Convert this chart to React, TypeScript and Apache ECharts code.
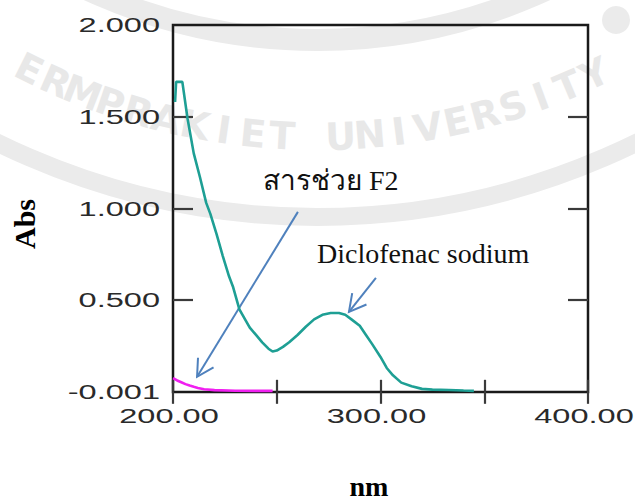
import React, { useEffect, useRef } from 'react';
import * as echarts from 'echarts';

// Diclofenac sodium spectrum (nm, Abs)
const dicloNm = [201, 201.5, 204.5, 207, 210, 213, 216, 218, 221, 224, 227, 229, 232, 235, 237, 240, 243, 246, 248, 250, 253, 256, 260, 264, 268, 272, 276, 280, 283, 286, 290, 293, 296, 300, 303, 306, 310, 315, 320, 325, 333, 340, 345];
const dicloAbs = [1.58, 1.69, 1.69, 1.49, 1.30, 1.17, 1.03, 0.97, 0.86, 0.74, 0.63, 0.57, 0.45, 0.39, 0.35, 0.31, 0.27, 0.235, 0.22, 0.225, 0.245, 0.27, 0.31, 0.355, 0.395, 0.42, 0.43, 0.43, 0.42, 0.395, 0.36, 0.31, 0.26, 0.19, 0.13, 0.09, 0.05, 0.03, 0.016, 0.012, 0.01, 0.007, 0.005];

// Excipient F2 spectrum (nm, Abs)
const f2Nm = [200, 202, 204, 206, 208, 210, 212, 215, 220, 230, 240, 248];
const f2Abs = [0.075, 0.062, 0.052, 0.042, 0.034, 0.027, 0.021, 0.014, 0.009, 0.006, 0.005, 0.005];

const xTickValues = [200, 300, 400];
const xTickLabels = ['200.00', '300.00', '400.00'];
const yTickValues = [-0.001, 0.5, 1, 1.5, 2];
const yTickLabels = ['-0.001', '0.500', '1.000', '1.500', '2.000'];

const annotationTexts = ['สารช่วย F2', 'Diclofenac sodium'];
const arrowFrom = [[260.2, 0.981], [297.8, 0.621]];
const arrowTo = [[211.6, 0.082], [284.8, 0.436]];

const watermarkText = 'ERMPRAKIET UNIVERSITY';

export default function App() {
  const ref = useRef<HTMLDivElement>(null);
  useEffect(() => {
    if (!ref.current) return;
    const chart = echarts.init(ref.current, undefined, { renderer: 'svg' });
    const tickStyle = { color: '#3a3a3a', width: 2.2 };
    const xAx = (pos: string) => ({
      type: 'value', min: 200, max: 400, interval: 50, position: pos,
      axisLine: { show: false }, splitLine: { show: false },
      axisTick: { show: true, inside: true, length: 12, lineStyle: tickStyle },
      axisLabel: { show: false },
    });
    const yAx = (pos: string) => ({
      type: 'value', min: -0.001, max: 2, position: pos,
      axisLine: { show: false }, splitLine: { show: false },
      axisTick: { show: true, inside: true, length: 20, customValues: [0.5, 1, 1.5], lineStyle: tickStyle },
      axisLabel: { show: false },
    });
    chart.setOption({
      animation: false,
      backgroundColor: '#ffffff',
      grid: { left: 173, top: 25, right: 47, bottom: 111, show: true, borderColor: '#1a1a1a', borderWidth: 2.5, containLabel: false },
      xAxis: [xAx('bottom'), xAx('top')],
      yAxis: [yAx('left'), yAx('right')],
      series: [
        {
          name: 'Diclofenac sodium', type: 'line', xAxisIndex: 0, yAxisIndex: 0,
          data: dicloNm.map((x, i) => [x, dicloAbs[i]]), showSymbol: false, symbol: 'none',
          lineStyle: { color: '#1e9f94', width: 2.6 }, z: 3,
        },
        {
          name: 'F2', type: 'line', xAxisIndex: 0, yAxisIndex: 0,
          data: f2Nm.map((x, i) => [x, f2Abs[i]]), showSymbol: false, symbol: 'none',
          lineStyle: { color: '#f01ff0', width: 2.6 }, z: 3,
        },
      ],
    });

    const px = (v: number[]) => chart.convertToPixel({ gridIndex: 0 }, v) as number[];
    const elements: any[] = [];

    // faint seal watermark
    const cx = 317, cy = -508;
    const wm = '#ebebeb';
    elements.push({ type: 'arc', silent: true, z: -10, shape: { cx, cy, r: 725, startAngle: Math.PI * 0.25, endAngle: Math.PI * 0.75 },
      style: { stroke: wm, lineWidth: 18, fill: null } });
    elements.push({ type: 'arc', silent: true, z: -10, shape: { cx, cy, r: 548, startAngle: Math.PI * 0.25, endAngle: Math.PI * 0.75 },
      style: { stroke: wm, lineWidth: 22, fill: null } });
    elements.push({ type: 'circle', silent: true, z: -10, shape: { cx: 616, cy: 20, r: 14 }, style: { fill: wm } });
    const a0 = 116.5 * Math.PI / 180, a1 = 64.5 * Math.PI / 180;
    const chars = watermarkText.split('');
    chars.forEach((ch, i) => {
      if (ch === ' ') return;
      const th = a0 + (a1 - a0) * i / (chars.length - 1);
      const r = 645;
      elements.push({ type: 'text', silent: true, z: -10,
        x: cx + r * Math.cos(th), y: cy + r * Math.sin(th), rotation: Math.PI / 2 - th,
        style: { text: ch, align: 'center', verticalAlign: 'middle', fontFamily: '"DejaVu Sans", sans-serif', fontWeight: 'bold', fontSize: 38, fill: '#e8e8e8' } });
    });

    const labelFont = { fontFamily: '"Liberation Sans", Arial, sans-serif', fontSize: 21, fill: '#2a2a2a' };
    yTickValues.forEach((v, i) => {
      const p = px([200, v]);
      elements.push({ type: 'text', x: p[0] - 13, y: p[1], scaleX: 1.55, silent: true,
        style: { text: yTickLabels[i], align: 'right', verticalAlign: 'middle', ...labelFont } });
    });
    xTickValues.forEach((v, i) => {
      const p = px([v, -0.001]);
      elements.push({ type: 'text', x: p[0] - 4, y: p[1] + 24, scaleX: 1.55, silent: true,
        style: { text: xTickLabels[i], align: 'center', verticalAlign: 'middle', ...labelFont } });
    });
    const arrowColor = '#4f81bd';
    arrowFrom.forEach((f, i) => {
      const a = px(f);
      const b = px(arrowTo[i]);
      const ang = Math.atan2(a[1] - b[1], a[0] - b[0]);
      const L = 19, w = 0.5;
      elements.push({ type: 'line', silent: true, shape: { x1: a[0], y1: a[1], x2: b[0], y2: b[1] }, style: { stroke: arrowColor, lineWidth: 2 } });
      elements.push({ type: 'polyline', silent: true, shape: { points: [
        [b[0] + L * Math.cos(ang + w), b[1] + L * Math.sin(ang + w)], [b[0], b[1]],
        [b[0] + L * Math.cos(ang - w), b[1] + L * Math.sin(ang - w)]] },
        style: { stroke: arrowColor, lineWidth: 2, fill: null } });
    });
    const serif = '"Liberation Serif", "Times New Roman", serif';
    elements.push({ type: 'text', x: 263, y: 180, silent: true,
      style: { text: annotationTexts[0], align: 'left', verticalAlign: 'middle', fontFamily: serif, fontSize: 28, fill: '#111' } });
    elements.push({ type: 'text', x: 317, y: 253, silent: true,
      style: { text: annotationTexts[1], align: 'left', verticalAlign: 'middle', fontFamily: serif, fontSize: 28, fill: '#111' } });
    elements.push({ type: 'text', x: 24, y: 224, rotation: Math.PI / 2, silent: true,
      style: { text: 'Abs', align: 'center', verticalAlign: 'middle', fontFamily: serif, fontSize: 30, fontWeight: 'bold', fill: '#000' } });
    elements.push({ type: 'text', x: 369, y: 486, silent: true,
      style: { text: 'nm', align: 'center', verticalAlign: 'middle', fontFamily: serif, fontSize: 28, fontWeight: 'bold', fill: '#000' } });
    chart.setOption({ graphic: { elements } });
    return () => chart.dispose();
  }, []);
  return <div ref={ref} style={{ position: 'fixed', left: 0, top: 0, width: 635, height: 503, background: '#fff' }} />;
}
